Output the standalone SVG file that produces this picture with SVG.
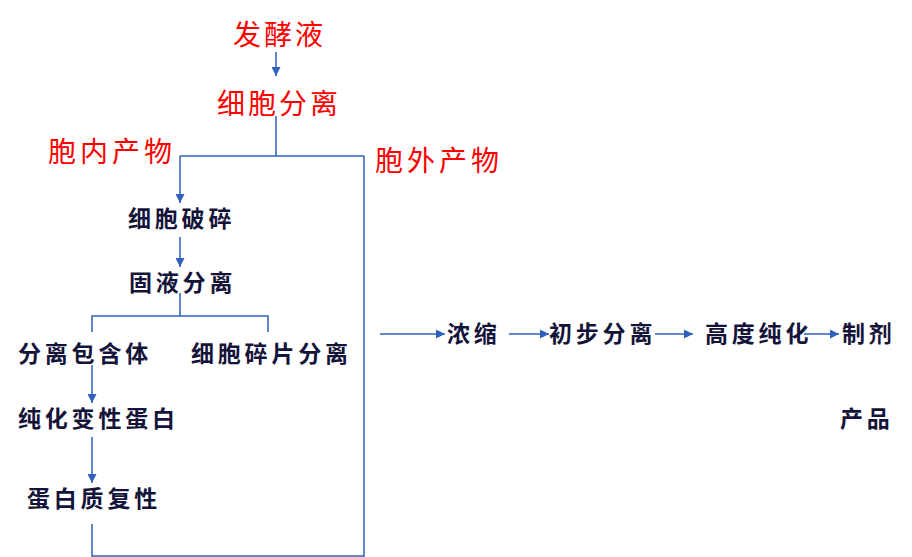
<svg xmlns="http://www.w3.org/2000/svg" width="912" height="557" viewBox="0 0 912 557">
<style>
.red{font-family:"Noto Sans CJK SC","Liberation Sans",sans-serif;font-size:28px;fill:#ff0000;letter-spacing:3px}
.red2{letter-spacing:4px}
.dk{font-family:"Noto Sans CJK SC","Liberation Sans",sans-serif;font-size:23px;fill:#14143a;font-weight:bold;letter-spacing:3.8px}
.ln{fill:none;stroke:#2f5fbf;stroke-width:1.5}
</style>
<defs>
<marker id="ah" markerUnits="userSpaceOnUse" markerWidth="9" markerHeight="9" viewBox="0 0 10 10" refX="10" refY="5" orient="auto">
<path d="M0,0 L10,5 L0,10 Z" fill="#2f5fbf"/>
</marker>
</defs>
<rect width="912" height="557" fill="#ffffff"/>
<g id="connectors">
<path class="ln" d="M276,52 V76" marker-end="url(#ah)"/>
<path class="ln" d="M276,116 V156"/>
<path class="ln" d="M180,156 H364"/>
<path class="ln" d="M180,156 V203" marker-end="url(#ah)"/>
<path class="ln" d="M364,156 V556 H92 V524"/>
<path class="ln" d="M180,237 V267" marker-end="url(#ah)"/>
<path class="ln" d="M180,293 V316"/>
<path class="ln" d="M92,332 V316 H268 V332"/>
<path class="ln" d="M92,365 V403" marker-end="url(#ah)"/>
<path class="ln" d="M92,437 V483" marker-end="url(#ah)"/>
<path class="ln" d="M380,334 H445" marker-end="url(#ah)"/>
<path class="ln" d="M509,334 H549" marker-end="url(#ah)"/>
<path class="ln" d="M655,334 H693" marker-end="url(#ah)"/>
<path class="ln" d="M804,334 H839" marker-end="url(#ah)"/>
</g>
<g id="n-fajiaoye"><text class="red" x="233" y="45">发酵液</text></g>
<g id="n-xibaofenli"><text class="red" x="217" y="114">细胞分离</text></g>
<g id="n-baonei"><text class="red red2" x="48" y="162">胞内产物</text></g>
<g id="n-baowai"><text class="red red2" x="375" y="171">胞外产物</text></g>
<g id="n-posui"><text class="dk" x="128" y="227">细胞破碎</text></g>
<g id="n-guye"><text class="dk" x="129" y="291">固液分离</text></g>
<g id="n-baohanti"><text class="dk" x="18" y="362">分离包含体</text></g>
<g id="n-suipian"><text class="dk" x="191" y="362">细胞碎片分离</text></g>
<g id="n-chunhua"><text class="dk" x="18" y="427">纯化变性蛋白</text></g>
<g id="n-fuxing"><text class="dk" x="27" y="507">蛋白质复性</text></g>
<g id="n-nongsuo"><text class="dk" x="447" y="342">浓缩</text></g>
<g id="n-chubu"><text class="dk" x="549" y="342">初步分离</text></g>
<g id="n-gaodu"><text class="dk" x="705" y="342">高度纯化</text></g>
<g id="n-zhiji"><text class="dk" x="842" y="342">制剂</text></g>
<g id="n-chanpin"><text class="dk" x="840" y="427">产品</text></g>
</svg>
